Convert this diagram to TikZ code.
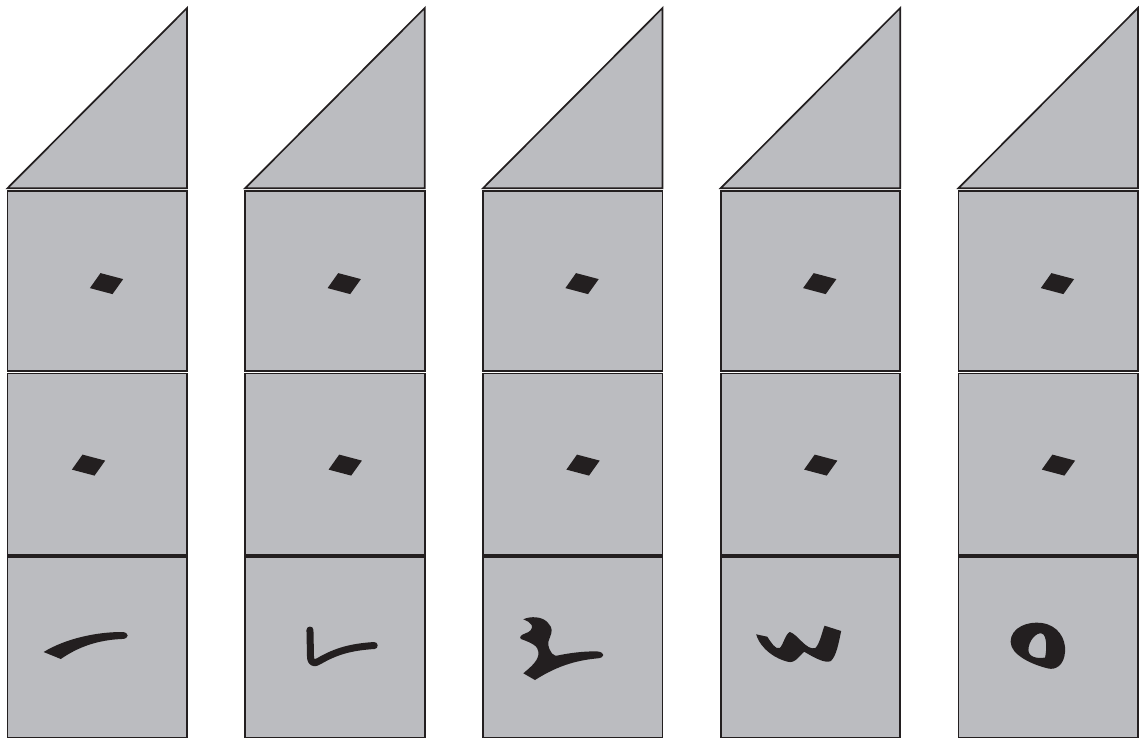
\documentclass[tikz,border=0pt]{standalone}
\definecolor{boxgray}{HTML}{BBBCC0}
\definecolor{ink}{HTML}{231F20}
\tikzset{
  cell/.style={draw=ink, fill=boxgray, line width=1.7pt, line join=miter},
  zerodot/.style={fill=ink, draw=none},
  numeral/.style={fill=ink, draw=none},
  numstroke/.style={draw=ink, line width=7pt, line cap=round, line join=round}
}
\begin{document}
\begin{tikzpicture}[x=1pt,y=-1pt]
\useasboundingbox (0,0) rectangle (1140,740);
\foreach \L/\dx [count=\i] in {7.5/81, 245.2/100, 483/100, 720.7/100, 958.4/100}{
  \coordinate (tl\i) at (\L,188.2);
  \coordinate (tr\i) at (\L+179.5,188.2);
  \coordinate (ap\i) at (\L+179.5,8);
  \draw[cell] (tl\i) -- (tr\i) -- (ap\i) -- cycle;
  \draw[cell] (\L,190.8) rectangle (\L+179.5,370.8);
  \draw[cell] (\L,373.4) rectangle (\L+179.5,554.7);
  \draw[cell] (\L,557.3) rectangle (\L+179.5,737.5);
  % zero dots
  \fill[zerodot] ([shift={(-16.6,4.6)}]\L+99,283.5) -- ++(10.6,-15) -- ++(22.7,6) -- ++(-10.7,15) -- cycle;
  \fill[zerodot] ([shift={(-16.6,4.6)}]\L+\dx,465) -- ++(10.6,-15) -- ++(22.7,6) -- ++(-10.7,15) -- cycle;
}
\begin{scope}[x=1.148pt]
% numeral 1
\fill[numeral] (38,652) .. controls (58,638) and (85,632) .. (106,632)
  .. controls (113,632) and (113,639) .. (106,639)
  .. controls (85,640) and (68,647) .. (53,659) -- cycle;
% numeral 2
\draw[numstroke] (270,630) -- (270.5,658) .. controls (271,663) and (274,664) .. (278,661)
  .. controls (293,651) and (306,647) .. (326,645.5);
\end{scope}
% numeral 3
\fill[numeral] (523.3,619.3) .. controls (530,616) and (543,616) .. (548.3,623.3)
  .. controls (553,628) and (552,632) .. (550,637)
  .. controls (547,643) and (548,648) .. (552,653.5)
  .. controls (554,656) and (556,656) .. (560,655)
  .. controls (575,652) and (590,651) .. (598,651.5)
  .. controls (605,652.5) and (605,657.5) .. (598,658.3)
  .. controls (580,660) and (560,664) .. (535,680)
  -- (523.3,673.3)
  .. controls (532,666) and (539,660) .. (538.5,652)
  .. controls (538,646) and (532,643) .. (521,639)
  .. controls (519,637) and (521,635) .. (525,633.5)
  .. controls (530,632) and (533,629) .. (531.7,625)
  .. controls (530,622) and (527,621) .. (523.3,619.3) -- cycle;
\begin{scope}[xshift=-61.5pt, x=1.1099pt]
% numeral 4 (w)
\fill[numeral] (736.7,634.3) -- (746.7,636.7)
  .. controls (750,642) and (754,650) .. (758,648)
  .. controls (761,645) and (763,634) .. (767,632)
  .. controls (774,634) and (782,651) .. (790,648)
  .. controls (794,644) and (796,632) .. (798.3,625.7)
  -- (813.3,631)
  .. controls (811,643) and (809,656) .. (804,661)
  .. controls (799,664) and (788,657) .. (780,651.7)
  .. controls (776,655) and (772,664) .. (765,661.7)
  .. controls (755,659) and (741,650) .. (736.7,634.3) -- cycle;
% numeral 5 (o)
\fill[numeral, even odd rule] (966,642) .. controls (966,627) and (982,621) .. (994,623)
  .. controls (1008,625) and (1016,638) .. (1015,652)
  .. controls (1014,666) and (1006,670) .. (1000,668.5)
  .. controls (986,665) and (966,655) .. (966,642) -- cycle
  (982,650) .. controls (982,641) and (989,632) .. (994,633.5)
  .. controls (999,635) and (998.5,650) .. (997,657.5)
  .. controls (990,659) and (982,657) .. (982,650) -- cycle;
\end{scope}
\end{tikzpicture}
\end{document}
